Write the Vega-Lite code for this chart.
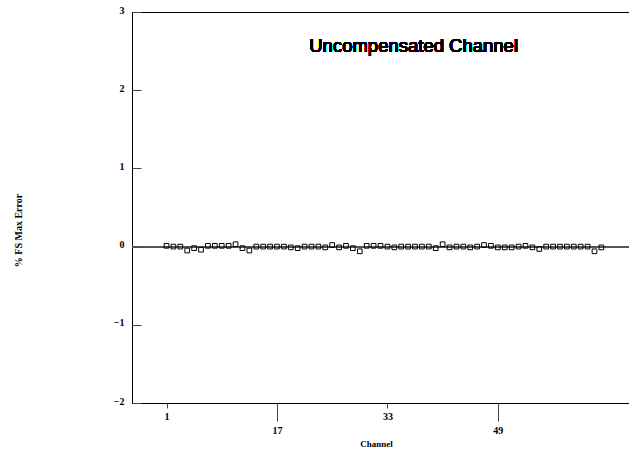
{
  "$schema": "https://vega.github.io/schema/vega-lite/v6.json",
  "width": 497,
  "height": 391,
  "autosize": "none",
  "padding": {"left": 132, "top": 12, "right": 0, "bottom": 50},
  "background": "white",
  "config": {
    "view": {"stroke": "black", "strokeWidth": 1},
    "axis": {"grid": false, "domainColor": "black", "domainWidth": 1}
  },
  "data": {
    "values": [
      {"channel": 1, "error": 0.01}, {"channel": 2, "error": 0.0}, {"channel": 3, "error": 0.0}, {"channel": 4, "error": -0.05},
      {"channel": 5, "error": -0.02}, {"channel": 6, "error": -0.04}, {"channel": 7, "error": 0.01}, {"channel": 8, "error": 0.01},
      {"channel": 9, "error": 0.01}, {"channel": 10, "error": 0.01}, {"channel": 11, "error": 0.03}, {"channel": 12, "error": -0.02},
      {"channel": 13, "error": -0.05}, {"channel": 14, "error": 0.0}, {"channel": 15, "error": 0.0}, {"channel": 16, "error": 0.0},
      {"channel": 17, "error": 0.0}, {"channel": 18, "error": 0.0}, {"channel": 19, "error": -0.01}, {"channel": 20, "error": -0.02},
      {"channel": 21, "error": 0.0}, {"channel": 22, "error": 0.0}, {"channel": 23, "error": 0.0}, {"channel": 24, "error": -0.01},
      {"channel": 25, "error": 0.02}, {"channel": 26, "error": -0.01}, {"channel": 27, "error": 0.01}, {"channel": 28, "error": -0.02},
      {"channel": 29, "error": -0.06}, {"channel": 30, "error": 0.01}, {"channel": 31, "error": 0.01}, {"channel": 32, "error": 0.01},
      {"channel": 33, "error": 0.0}, {"channel": 34, "error": -0.01}, {"channel": 35, "error": 0.0}, {"channel": 36, "error": 0.0},
      {"channel": 37, "error": 0.0}, {"channel": 38, "error": 0.0}, {"channel": 39, "error": 0.0}, {"channel": 40, "error": -0.02},
      {"channel": 41, "error": 0.03}, {"channel": 42, "error": -0.01}, {"channel": 43, "error": 0.0}, {"channel": 44, "error": 0.0},
      {"channel": 45, "error": -0.01}, {"channel": 46, "error": 0.0}, {"channel": 47, "error": 0.02}, {"channel": 48, "error": 0.01},
      {"channel": 49, "error": -0.01}, {"channel": 50, "error": -0.01}, {"channel": 51, "error": -0.01}, {"channel": 52, "error": 0.0},
      {"channel": 53, "error": 0.01}, {"channel": 54, "error": -0.01}, {"channel": 55, "error": -0.03}, {"channel": 56, "error": 0.0},
      {"channel": 57, "error": 0.0}, {"channel": 58, "error": 0.0}, {"channel": 59, "error": 0.0}, {"channel": 60, "error": 0.0},
      {"channel": 61, "error": 0.0}, {"channel": 62, "error": 0.0}, {"channel": 63, "error": -0.06}, {"channel": 64, "error": -0.01}
    ]
  },
  "layer": [
    {
      "mark": {"type": "rule", "color": "#555555", "strokeWidth": 1},
      "encoding": {"y": {"datum": 0, "type": "quantitative", "scale": {"domain": [-2, 3]}}}
    },
    {
      "mark": {"type": "point", "shape": "square", "size": 22, "filled": false, "stroke": "black", "strokeWidth": 1, "opacity": 1},
      "encoding": {
        "x": {
          "field": "channel", "type": "quantitative",
          "scale": {"domain": [-4, 68], "nice": false, "zero": false},
          "axis": {
            "values": [1, 17, 33, 49],
            "title": "Channel",
            "titleFont": "Liberation Serif", "titleFontSize": 9, "titleFontWeight": "bold", "titleColor": "black",
            "titleX": 244, "titleY": 40, "titleBaseline": "middle",
            "labelFont": "Liberation Serif", "labelFontSize": 10, "labelFontWeight": "bold", "labelColor": "black",
            "labelExpr": "datum.value == 17 || datum.value == 49 ? ['', datum.label] : datum.label",
            "labelLineHeight": 1,
            "labelPadding": 3,
            "labelBaseline": "top",
            "tickColor": "#444444",
            "tickSize": {"condition": {"test": "datum.value == 17 || datum.value == 49", "value": 18}, "value": 5}
          }
        },
        "y": {
          "field": "error", "type": "quantitative",
          "scale": {"domain": [-2, 3], "nice": false, "zero": false},
          "axis": {
            "values": [-2, -1, 0, 1, 2, 3],
            "format": "d",
            "title": "% FS Max Error",
            "titleFont": "Liberation Serif", "titleFontSize": 10, "titleFontWeight": "bold", "titleColor": "black",
            "titleX": -114, "titleY": 218, "titleAngle": -90, "titleBaseline": "middle", "titleAlign": "center",
            "labelFont": "Liberation Serif", "labelFontSize": 10, "labelFontWeight": "bold", "labelColor": "black",
            "labelBaseline": "middle", "labelOffset": -2,
            "tickColor": "#444444", "tickSize": -9, "labelPadding": 17
          }
        }
      }
    },
    {
      "mark": {"type": "text", "text": "Uncompensated Channel", "font": "Liberation Sans", "fontSize": 18.5, "fontWeight": "normal", "fill": "black", "align": "center", "baseline": "middle"},
      "encoding": {
        "x": {"datum": 36.8},
        "y": {"datum": 2.565}
      }
    }
  ]
}
